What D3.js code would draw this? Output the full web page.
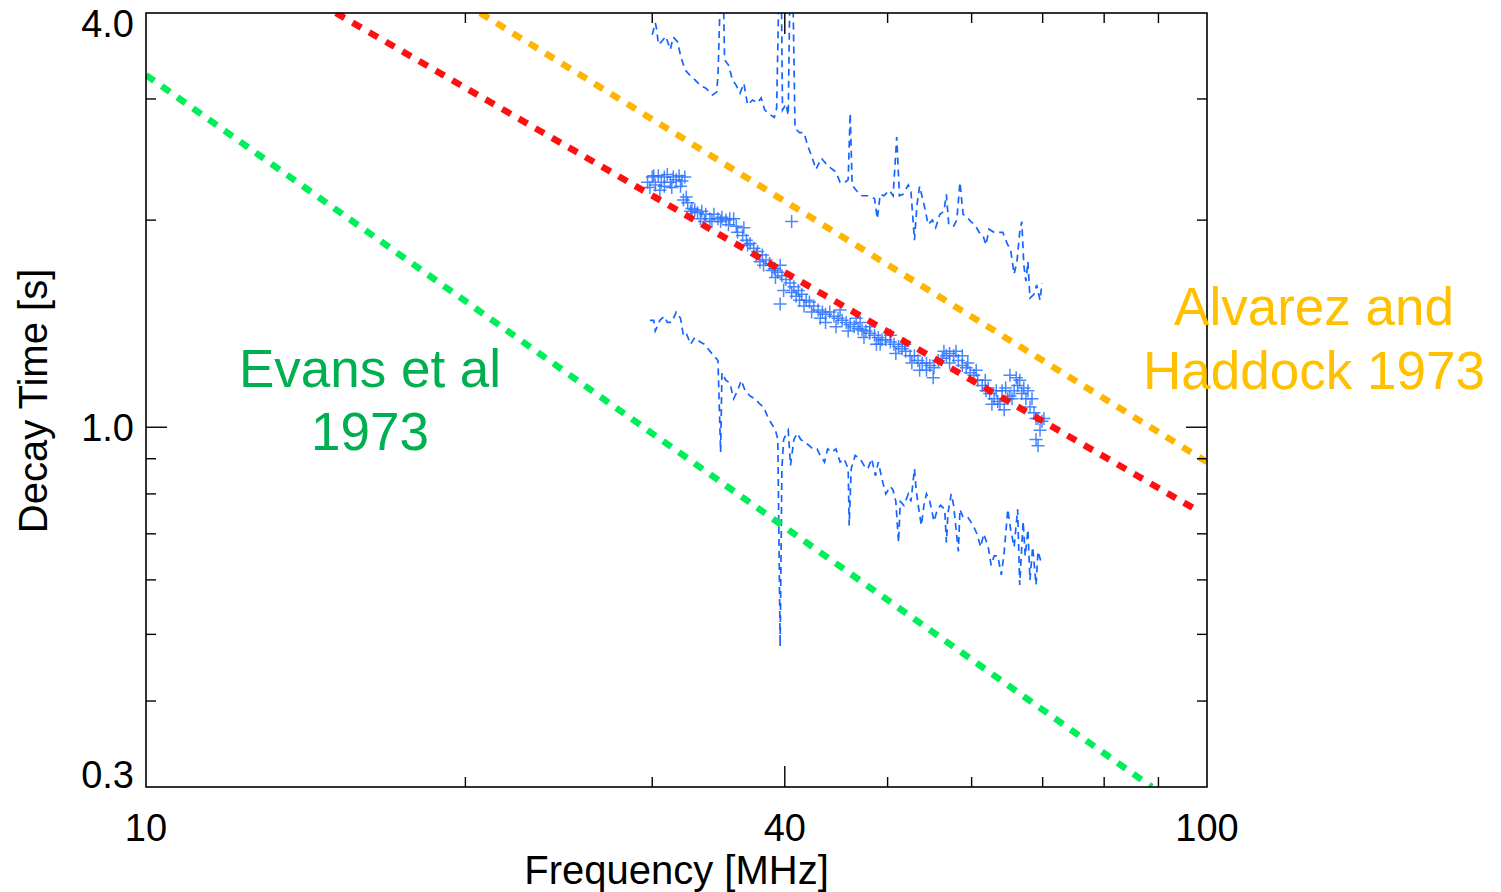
<!DOCTYPE html>
<html><head><meta charset="utf-8">
<script src="https://cdn.jsdelivr.net/npm/d3@7"></script>
<style>body{margin:0;background:#fff;overflow:hidden}</style>
</head><body>
<svg id="chart" width="1501" height="892"></svg>
<script>
// ---------- data ----------
const freqDomain = [10, 100];
const tauDomain = [0.3, 4.0];
const xTickLabels = [10, 40, 100];
const yTickLabels = [0.3, 1.0, 4.0];
const xMajorTicks = [40];
const xMinorTicks = [20, 30, 50, 60, 70, 80, 90];
const yMajorTicks = [1.0];
const yMinorTicks = [0.4, 0.5, 0.6, 0.7, 0.8, 0.9, 2, 3];

// model lines [freq MHz, decay s]
const alvarezLine = [[20.65, 4.0], [100, 0.89]];
const fitLine = [[15.1, 4.0], [98.5, 0.753]];
const evansLine = [[10, 3.25], [88.7, 0.3]];

// measured decay times
const decayFreq = [29.7,30.0,30.2,30.4,30.6,30.8,31.0,31.2,31.4,31.6,31.8,32.0,32.2,30.5,31.3,29.85,
32.1,32.4,32.7,32.3,32.9,33.1,33.4,33.7,34.0,34.3,34.6,34.9,35.2,35.5,35.8,34.15,33.3,35.4,
36.1,36.5,36.8,37.1,36.6,37.4,37.7,38.1,38.4,38.7,37.9,39.1,39.4,39.75,40.1,38.9,40.45,40.8,41.2,41.5,41.9,42.2,41.0,
42.6,43.0,43.4,43.7,44.1,44.5,44.9,45.3,45.7,46.1,46.5,46.9,47.3,47.7,48.1,48.6,49.0,49.4,49.8,50.3,50.7,51.2,51.6,
52.0,52.5,53.0,53.4,53.9,54.4,54.8,55.3,55.8,56.3,56.8,57.2,57.7,58.3,58.8,59.3,59.8,60.3,60.8,61.4,61.9,62.4,63.0,63.5,
64.1,64.6,65.2,65.8,66.3,66.9,67.5,68.1,68.7,69.3,69.6,69.9,69.0,69.3,70.2,63.8,64.4,65.5,53.6,55.2,45.1,47.1,49.2,43.2,41.3,39.6,
40.6,39.6,46.7,48.1,50.3,51.9,57.2,58.8,61.8,66.6,67.8,65.2,62.7,
36.0,36.9,37.6,38.2,39.2,39.9,40.6,41.7,42.4,43.7,44.7,45.9,47.5,48.8,50.9,52.7,54.4,56.5,58.0,59.5,60.6,62.2,63.3,64.9,66.1,67.2,68.4,69.0,
33.6,32.6,34.8,30.8,31.9,30.1];
const decayTime = [2.27,2.31,2.25,2.32,2.27,2.31,2.33,2.27,2.31,2.29,2.32,2.28,2.31,2.21,2.23,2.23,
2.14,2.12,2.08,2.16,2.07,2.05,2.06,2.04,2.01,2.04,2.01,2.02,2.00,2.01,2.01,1.99,2.01,1.97,
1.92,1.90,1.87,1.85,1.95,1.82,1.80,1.78,1.75,1.73,1.74,1.70,1.68,1.66,1.64,1.69,1.62,1.60,1.58,1.56,1.53,1.52,1.55,
1.50,1.48,1.47,1.46,1.47,1.45,1.44,1.43,1.42,1.41,1.40,1.39,1.385,1.38,1.37,1.36,1.35,1.34,1.34,1.33,1.32,1.31,1.30,
1.29,1.27,1.27,1.25,1.24,1.24,1.23,1.22,1.25,1.26,1.27,1.28,1.27,1.25,1.23,1.22,1.20,1.19,1.17,1.15,1.13,1.12,1.10,1.09,
1.13,1.14,1.19,1.13,1.15,1.12,1.10,1.07,1.05,1.03,0.99,1.02,0.96,0.94,1.03,1.08,1.06,1.10,1.21,1.18,1.48,1.42,1.32,1.44,1.53,1.72,
1.99,1.51,1.44,1.40,1.36,1.32,1.24,1.27,1.17,1.17,1.13,1.11,1.08,
1.96,1.84,1.78,1.72,1.65,1.58,1.57,1.50,1.47,1.42,1.40,1.38,1.35,1.32,1.28,1.24,1.21,1.29,1.29,1.24,1.21,1.14,1.13,1.10,1.18,1.14,1.10,1.03,
1.99,2.06,1.99,2.24,2.24,2.32];

// upper envelope
const upperFreq = [30.0,30.2,30.3,30.4,30.6,30.9,31.2,31.4,31.7,31.9,32.2,32.6,32.9,33.3,33.7,34.2,34.5,34.6,34.8,35.0,35.1,35.4,35.7,36.0,36.3,36.6,36.9,37.3,37.7,38.0,38.3,38.7,39.1,39.3,39.5,39.7,39.8,40.1,40.3,40.45,40.7,40.9,41.3,41.7,42.1,42.4,42.8,43.3,43.7,44.2,44.7,45.1,45.6,45.9,46.1,46.3,46.7,47.3,47.9,48.6,48.9,49.2,49.6,50.2,50.6,51.0,51.3,51.7,52.3,52.6,53.0,53.3,53.6,54.1,54.6,55.1,55.5,56.0,56.5,56.8,57.1,57.7,58.1,58.5,58.9,59.4,59.9,60.4,61.0,61.5,61.9,62.3,63.0,63.7,64.2,64.8,65.3,65.8,66.2,66.6,66.9,67.2,67.5,67.8,68.1,68.7,69.1,69.6,69.9];
const upperTime = [3.72,3.87,3.78,3.60,3.63,3.70,3.54,3.69,3.63,3.47,3.31,3.24,3.20,3.14,3.11,3.04,3.07,3.24,4.4,4.4,3.42,3.36,3.20,3.14,3.06,3.16,2.94,2.99,2.96,3.01,2.89,2.85,2.82,2.91,4.4,4.4,2.89,2.95,2.84,4.4,4.4,2.72,2.68,2.68,2.55,2.48,2.37,2.46,2.42,2.38,2.35,2.27,2.27,2.29,2.86,2.25,2.21,2.17,2.17,2.15,2.01,2.18,2.17,2.21,2.17,2.64,2.17,2.18,2.25,2.20,1.87,2.11,2.24,2.11,1.97,2.00,1.95,2.04,2.06,2.18,1.97,1.96,2.00,2.27,2.04,2.02,1.99,1.97,1.92,1.90,1.84,1.94,1.92,1.92,1.92,1.85,1.81,1.67,1.74,1.92,1.99,1.72,1.63,1.74,1.54,1.56,1.61,1.53,1.62];

// lower envelope
const lowerFreq = [29.85,30.1,30.2,30.5,30.8,31.0,31.3,31.6,31.9,32.1,32.3,32.6,32.9,33.3,33.6,34.0,34.3,34.6,34.8,34.9,35.2,35.5,35.8,36.1,36.4,36.7,37.1,37.5,37.9,38.2,38.6,38.9,39.2,39.4,39.6,39.75,39.9,40.3,40.5,40.8,41.1,41.4,41.8,42.2,42.5,42.9,43.2,43.6,43.9,44.3,44.7,45.1,45.5,45.9,46.0,46.2,46.6,47.1,47.5,47.9,48.3,48.7,49.0,49.4,49.8,50.3,50.6,50.9,51.2,51.4,51.8,52.3,52.6,53.0,53.2,53.5,53.8,54.1,54.4,54.8,55.3,55.7,56.1,56.6,56.8,57.0,57.4,57.7,58.3,58.5,58.9,59.5,60.2,60.7,61.2,61.6,62.2,62.6,63.0,63.5,64.0,64.4,64.9,65.3,65.8,66.3,66.6,67.1,67.4,67.8,68.1,68.5,69.0,69.3,69.7];
const lowerTime = [1.43,1.43,1.38,1.43,1.45,1.42,1.42,1.47,1.44,1.36,1.37,1.32,1.35,1.33,1.32,1.29,1.27,1.25,0.92,1.20,1.17,1.16,1.10,1.13,1.17,1.13,1.11,1.10,1.08,1.07,1.03,1.01,0.99,0.96,0.48,0.87,0.96,0.99,0.88,0.96,0.98,0.96,0.95,0.94,0.93,0.93,0.91,0.89,0.93,0.92,0.93,0.89,0.90,0.87,0.72,0.87,0.91,0.90,0.88,0.87,0.90,0.85,0.89,0.84,0.80,0.82,0.81,0.78,0.68,0.78,0.77,0.80,0.78,0.87,0.81,0.76,0.72,0.77,0.80,0.78,0.73,0.76,0.77,0.76,0.68,0.75,0.80,0.77,0.66,0.76,0.74,0.74,0.72,0.70,0.67,0.70,0.67,0.63,0.65,0.65,0.61,0.66,0.76,0.71,0.67,0.76,0.59,0.73,0.65,0.71,0.60,0.67,0.59,0.66,0.64];

const labelEvans = ["Evans et al", "1973"];
const labelAlvarez = ["Alvarez and", "Haddock 1973"];

// ---------- layout ----------
const M = {left: 146, right: 1207, top: 13, bottom: 787};
const svg = d3.select("#chart");
const x = d3.scaleLog().domain(freqDomain).range([M.left, M.right]);
const y = d3.scaleLog().domain(tauDomain).range([M.bottom, M.top]);
const FONT = "'Liberation Sans', Arial, Helvetica, sans-serif";
const BLUE = "#1664ff";

svg.append("defs").append("clipPath").attr("id", "plotclip")
  .append("rect").attr("x", M.left).attr("y", M.top)
  .attr("width", M.right - M.left).attr("height", M.bottom - M.top);

const plot = svg.append("g").attr("clip-path", "url(#plotclip)");

const env = d3.line().x(d => x(d[0])).y(d => y(d[1]));
const upper = upperFreq.map((f, i) => [f, upperTime[i]]);
const lower = lowerFreq.map((f, i) => [f, lowerTime[i]]);
[upper, lower].forEach(pts => {
  plot.append("path").datum(pts).attr("d", env)
    .attr("fill", "none").attr("stroke", BLUE).attr("stroke-width", 1.7)
    .attr("stroke-dasharray", "7,5");
});

const models = [
  {pts: evansLine, color: "#00ee5a"},
  {pts: alvarezLine, color: "#ffb400"}
];
models.forEach(m => {
  plot.append("path").datum(m.pts).attr("d", env)
    .attr("fill", "none").attr("stroke", m.color).attr("stroke-width", 6.5)
    .attr("stroke-dasharray", "10,9.2");
});

const pts = decayFreq.map((f, i) => [f, decayTime[i]]);
plot.append("g").selectAll("path").data(pts).join("path")
  .attr("transform", d => `translate(${x(d[0])},${y(d[1])})`)
  .attr("d", "M-6.5,0H6.5M0,-6.5V6.5")
  .attr("stroke", "#2a72ff").attr("stroke-width", 1.5).attr("fill", "none")
  .attr("opacity", 0.85);

plot.append("path").datum(fitLine).attr("d", env)
  .attr("fill", "none").attr("stroke", "#ff1010").attr("stroke-width", 6.5)
  .attr("stroke-dasharray", "10,9.2");

svg.append("rect").attr("x", M.left).attr("y", M.top)
  .attr("width", M.right - M.left).attr("height", M.bottom - M.top)
  .attr("fill", "none").attr("stroke", "#000").attr("stroke-width", 1.6);

const tk = svg.append("g").attr("stroke", "#000").attr("stroke-width", 1.4);
function xt(vals, len) {
  vals.forEach(v => {
    tk.append("line").attr("x1", x(v)).attr("x2", x(v)).attr("y1", M.bottom).attr("y2", M.bottom - len);
    tk.append("line").attr("x1", x(v)).attr("x2", x(v)).attr("y1", M.top).attr("y2", M.top + len);
  });
}
function yt(vals, len) {
  vals.forEach(v => {
    tk.append("line").attr("y1", y(v)).attr("y2", y(v)).attr("x1", M.left).attr("x2", M.left + len);
    tk.append("line").attr("y1", y(v)).attr("y2", y(v)).attr("x1", M.right).attr("x2", M.right - len);
  });
}
xt(xMinorTicks, 10); xt(xMajorTicks, 21);
yt(yMinorTicks, 10); yt(yMajorTicks, 21);

svg.append("g").selectAll("text").data(xTickLabels).join("text")
  .attr("x", d => x(d)).attr("y", 841).attr("text-anchor", "middle")
  .attr("font-family", FONT).attr("font-size", 38).attr("fill", "#000")
  .text(d => d);
svg.append("g").selectAll("text").data(yTickLabels).join("text")
  .attr("x", 134)
  .attr("y", d => Math.min(Math.max(y(d) + 14, M.top + 24), M.bottom + 1))
  .attr("text-anchor", "end")
  .attr("font-family", FONT).attr("font-size", 38).attr("fill", "#000")
  .text(d => d3.format(".1f")(d));

svg.append("text").attr("x", (M.left + M.right) / 2).attr("y", 884)
  .attr("text-anchor", "middle").attr("font-family", FONT).attr("font-size", 40)
  .text("Frequency [MHz]");
svg.append("text").attr("transform", "translate(47,401) rotate(-90)")
  .attr("text-anchor", "middle").attr("font-family", FONT).attr("font-size", 40)
  .text("Decay Time [s]");

labelEvans.forEach((t, i) => {
  svg.append("text").attr("x", 370).attr("y", 387 + i * 63).attr("text-anchor", "middle")
    .attr("font-family", FONT).attr("font-size", 53).attr("fill", "#00b050").text(t);
});
labelAlvarez.forEach((t, i) => {
  svg.append("text").attr("x", 1314).attr("y", 325 + i * 64).attr("text-anchor", "middle")
    .attr("font-family", FONT).attr("font-size", 53).attr("fill", "#ffc000").text(t);
});
</script>
</body></html>
